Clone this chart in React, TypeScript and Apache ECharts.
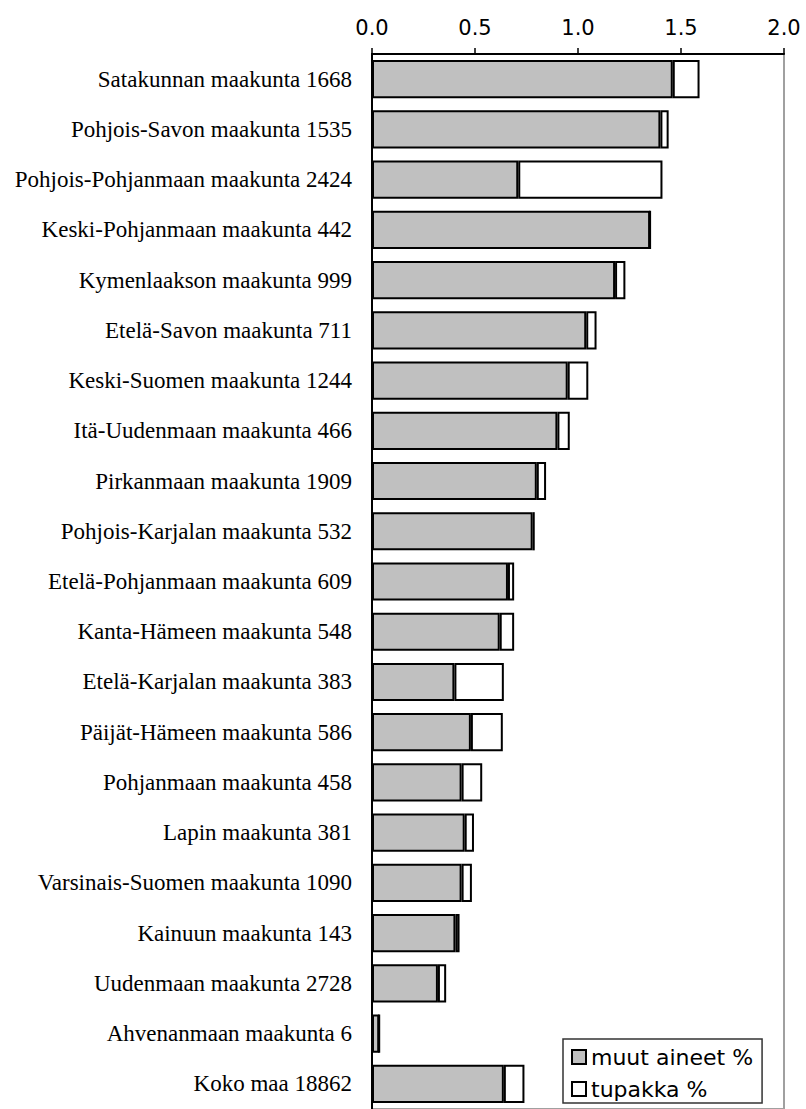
import React, { useEffect, useRef } from "react";
import * as echarts from "echarts";

const categories = [
  "Satakunnan maakunta 1668",
  "Pohjois-Savon maakunta 1535",
  "Pohjois-Pohjanmaan maakunta 2424",
  "Keski-Pohjanmaan maakunta 442",
  "Kymenlaakson maakunta 999",
  "Etelä-Savon maakunta 711",
  "Keski-Suomen maakunta 1244",
  "Itä-Uudenmaan maakunta 466",
  "Pirkanmaan maakunta 1909",
  "Pohjois-Karjalan maakunta 532",
  "Etelä-Pohjanmaan maakunta 609",
  "Kanta-Hämeen maakunta 548",
  "Etelä-Karjalan maakunta 383",
  "Päijät-Hämeen maakunta 586",
  "Pohjanmaan maakunta 458",
  "Lapin maakunta 381",
  "Varsinais-Suomen maakunta 1090",
  "Kainuun maakunta 143",
  "Uudenmaan maakunta 2728",
  "Ahvenanmaan maakunta 6",
  "Koko maa 18862",
];

const muutAineet = [
  1.46, 1.40, 0.71, 1.35, 1.18, 1.04, 0.95, 0.90, 0.80, 0.78, 0.66, 0.62, 0.40,
  0.48, 0.435, 0.45, 0.435, 0.405, 0.32, 0.035, 0.64,
];

const tupakka = [
  0.13, 0.04, 0.70, 0, 0.05, 0.05, 0.10, 0.06, 0.045, 0.01, 0.03, 0.07, 0.24,
  0.155, 0.10, 0.045, 0.05, 0.02, 0.04, 0, 0.10,
];

const xTicks = { min: 0, max: 2, interval: 0.5 };

export default function App() {
  const ref = useRef<HTMLDivElement>(null);
  useEffect(() => {
    if (!ref.current) return;
    const chart = echarts.init(ref.current, undefined, { renderer: "svg" });
    chart.setOption({
      animation: false,
      backgroundColor: "#ffffff",
      grid: {
        left: 372,
        right: 22,
        top: 54,
        bottom: -3,
        show: true,
        borderColor: "#a0a0a0",
        borderWidth: 2,
        containLabel: false,
      },
      xAxis: {
        type: "value",
        position: "top",
        min: xTicks.min,
        max: xTicks.max,
        interval: xTicks.interval,
        axisLine: { show: true, lineStyle: { color: "#000", width: 2 } },
        axisTick: { show: true, length: 6, lineStyle: { color: "#000", width: 1.5 } },
        splitLine: { show: false },
        axisLabel: {
          formatter: (v: number) => v.toFixed(1),
          fontFamily: "DejaVu Sans",
          fontSize: 21,
          color: "#000",
          margin: 16,
        },
      },
      yAxis: {
        type: "category",
        data: categories,
        inverse: true,
        axisLine: { show: true, lineStyle: { color: "#000", width: 2 } },
        axisTick: { show: false },
        axisLabel: {
          fontFamily: "Liberation Serif",
          fontSize: 23,
          color: "#000",
          margin: 20,
        },
      },
      legend: {
        orient: "vertical",
        left: 563,
        top: 1039,
        backgroundColor: "#fff",
        borderColor: "#333",
        borderWidth: 1.5,
        padding: [7, 9, 3, 8],
        itemWidth: 14,
        itemHeight: 14,
        itemGap: 10,
        icon: "rect",
        textStyle: {
          fontFamily: "DejaVu Sans",
          fontSize: 22,
          lineHeight: 22,
          color: "#000",
        },
        data: ["muut aineet %", "tupakka %"],
      },
      series: [
        {
          name: "muut aineet %",
          type: "bar",
          stack: "total",
          data: muutAineet,
          barCategoryGap: "24%",
          itemStyle: { color: "#c0c0c0", borderColor: "#000", borderWidth: 2 },
        },
        {
          name: "tupakka %",
          type: "bar",
          stack: "total",
          data: tupakka,
          barCategoryGap: "24%",
          itemStyle: { color: "#ffffff", borderColor: "#000", borderWidth: 2 },
        },
      ],
    });
    return () => chart.dispose();
  }, []);
  return (
    <div
      ref={ref}
      style={{ position: "absolute", left: 0, top: 0, width: 806, height: 1109 }}
    />
  );
}
